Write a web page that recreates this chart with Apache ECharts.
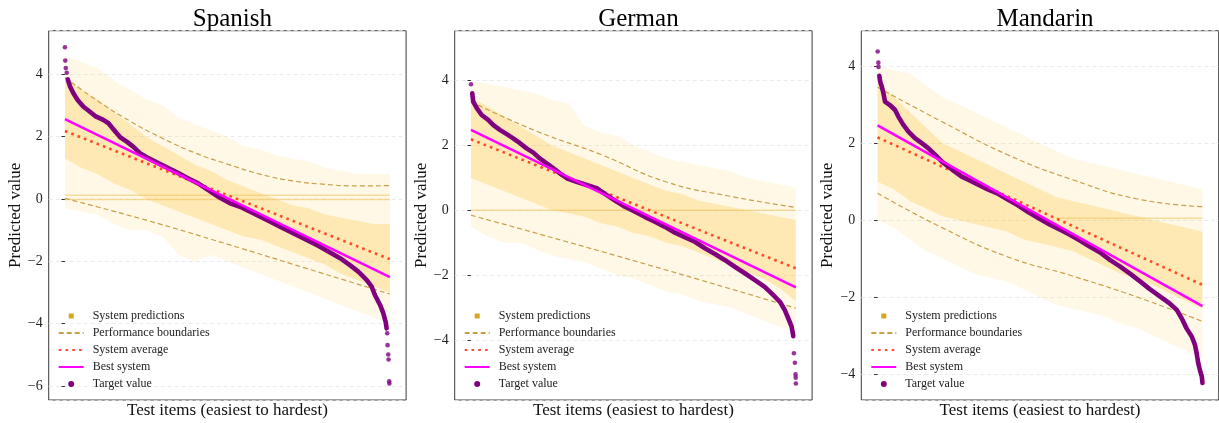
<!DOCTYPE html>
<html>
<head>
<meta charset="utf-8">
<script src="https://cdn.jsdelivr.net/npm/echarts@6/dist/echarts.min.js"></script>
<style>
html, body { margin: 0; padding: 0; background: #fff; }
#chart { width: 1219px; height: 423px; }
</style>
</head>
<body>
<div id="chart"></div>
<script>
var chart = echarts.init(document.getElementById('chart'));

// panels
var languages = ['Spanish', 'German', 'Mandarin'];
var yMin = [-6.45, -5.85, -4.67];
var yMax = [5.4, 5.54, 4.92];

// x = position of the test item, in % of items (easiest -> hardest)
var cloudX = [0, 5, 10, 15, 20, 25, 30, 35, 40, 45, 50, 55, 60, 65, 70, 75, 80, 85, 90, 95, 100];

// system predictions cloud (sparse outer band and dense core band)
var spanishOuterHi = [4.6, 4.4, 4.2, 3.8, 3.5, 3.2, 3.0, 2.6, 2.4, 2.2, 2.0, 1.7, 1.6, 1.4, 1.3, 1.2, 1.0, 0.9, 0.8, 0.8, 0.8];
var spanishCoreHi  = [3.9, 3.5, 3.2, 2.8, 2.4, 2.0, 1.7, 1.4, 1.1, 0.9, 0.6, 0.4, 0.2, 0.0, -0.2, -0.3, -0.5, -0.6, -0.7, -0.8, -0.8];
var spanishCoreLo  = [1.3, 1.0, 0.8, 0.5, 0.3, 0.0, -0.2, -0.4, -0.6, -0.8, -1.0, -1.2, -1.3, -1.5, -1.7, -1.9, -2.1, -2.4, -2.6, -2.8, -3.0];
var spanishOuterLo = [-0.3, -0.4, -0.5, -0.8, -1.0, -1.0, -1.2, -1.8, -2.0, -1.8, -2.0, -2.2, -2.4, -2.6, -2.8, -3.0, -3.2, -3.4, -3.6, -3.8, -4.0];

var germanOuterHi = [4.0, 3.9, 3.8, 3.7, 3.6, 3.4, 3.3, 2.6, 2.4, 2.3, 2.0, 1.8, 1.6, 1.5, 1.4, 1.3, 1.2, 1.0, 0.9, 0.8, 0.7];
var germanCoreHi  = [3.5, 3.2, 2.9, 2.6, 2.3, 2.0, 1.8, 1.6, 1.4, 1.2, 1.0, 0.8, 0.6, 0.5, 0.3, 0.2, 0.1, 0.0, -0.1, -0.2, -0.3];
var germanCoreLo  = [1.0, 0.8, 0.6, 0.4, 0.2, 0.0, -0.1, -0.2, -0.4, -0.5, -0.7, -0.8, -1.0, -1.1, -1.3, -1.5, -1.7, -1.9, -2.1, -2.4, -2.8];
var germanOuterLo = [-0.5, -0.8, -1.0, -1.0, -1.2, -1.4, -1.5, -1.6, -1.8, -2.0, -2.1, -2.3, -2.5, -2.6, -2.8, -2.9, -3.0, -3.2, -3.4, -3.6, -3.7];

var mandarinOuterHi = [4.0, 3.9, 3.8, 3.5, 3.2, 3.0, 2.8, 2.6, 2.4, 2.2, 2.0, 1.8, 1.6, 1.5, 1.4, 1.3, 1.2, 1.1, 1.0, 0.9, 0.8];
var mandarinCoreHi  = [3.6, 3.2, 2.8, 2.4, 2.0, 1.8, 1.6, 1.4, 1.2, 1.0, 0.8, 0.6, 0.5, 0.4, 0.3, 0.2, 0.1, 0.0, -0.1, -0.2, -0.3];
var mandarinCoreLo  = [1.0, 0.8, 0.5, 0.3, 0.1, 0.0, -0.1, -0.2, -0.3, -0.5, -0.6, -0.7, -0.8, -1.0, -1.2, -1.4, -1.5, -1.7, -1.9, -2.1, -2.3];
var mandarinOuterLo = [0.0, -0.2, -0.5, -0.8, -1.0, -1.2, -1.4, -1.5, -1.6, -1.8, -2.0, -2.2, -2.3, -2.4, -2.5, -2.7, -2.8, -3.0, -3.2, -3.4, -3.6];

// systems that predict a near-constant value
var spanishFlat = [[[0, 0.12], [100, 0.12]], [[0, -0.02], [100, -0.02]]];
var germanFlat = [[[0, 0.0], [100, 0.0]]];
var mandarinFlat = [[[55, 0.05], [100, 0.05]]];

// performance boundaries
var spanishUpper = [[0, 3.9], [10, 3.15], [20, 2.5], [30, 1.95], [40, 1.48], [50, 1.12], [60, 0.8], [70, 0.58], [80, 0.47], [90, 0.42], [100, 0.43]];
var spanishLower = [[0, 0.02], [25, -0.68], [50, -1.45], [75, -2.25], [100, -3.05]];
var germanUpper = [[0, 3.35], [20, 2.45], [40, 1.72], [60, 0.88], [80, 0.43], [100, 0.09]];
var germanLower = [[0, -0.15], [50, -1.55], [100, -3.02]];
var mandarinUpper = [[0, 3.45], [20, 2.55], [40, 1.7], [60, 1.05], [80, 0.55], [100, 0.35]];
var mandarinLower = [[0, 0.7], [20, -0.2], [40, -0.95], [60, -1.45], [80, -2.0], [100, -2.63]];

// system average and best system
var spanishAverage = [[0, 2.18], [100, -1.93]];
var spanishBest = [[0, 2.56], [100, -2.51]];
var germanAverage = [[0, 2.19], [100, -1.79]];
var germanBest = [[0, 2.48], [100, -2.38]];
var mandarinAverage = [[0, 2.15], [100, -1.68]];
var mandarinBest = [[0, 2.46], [100, -2.23]];

// target values (sorted), dense curve plus the isolated extreme items
var spanishTarget = [[0.86, 3.84], [1.57, 3.61], [2.6, 3.39], [3.9, 3.18], [5.7, 2.96], [7.2, 2.84], [9.3, 2.66], [11.8, 2.54], [13.4, 2.43], [14.9, 2.24], [17.0, 1.98], [19.0, 1.84], [21.0, 1.68], [23.1, 1.47], [25.7, 1.31], [28.7, 1.15], [31.8, 0.99], [34.9, 0.83], [38.0, 0.66], [41.0, 0.5], [44.1, 0.29], [47.2, 0.07], [50.8, -0.14], [53.9, -0.25], [57.0, -0.41], [60.1, -0.57], [63.2, -0.73], [66.2, -0.89], [69.3, -1.05], [72.4, -1.21], [75.5, -1.37], [78.5, -1.53], [81.6, -1.72], [84.7, -1.9], [87.7, -2.12], [90.3, -2.33], [92.9, -2.6], [94.4, -2.81], [95.4, -3.08], [97.0, -3.4], [98.0, -3.67], [98.7, -3.94], [99.0, -4.15]];
var spanishTargetEnds = [[0, 4.87], [0.1, 4.44], [0.25, 4.2], [0.55, 4.05], [99.2, -4.31], [99.3, -4.69], [99.5, -4.99], [99.6, -5.15], [99.8, -5.85], [99.85, -5.92]];

var germanTarget = [[0.4, 3.61], [0.7, 3.35], [1.8, 3.15], [3.3, 2.94], [5.3, 2.79], [6.9, 2.63], [8.9, 2.48], [11.0, 2.35], [13.0, 2.22], [15.1, 2.07], [17.1, 1.91], [19.2, 1.78], [21.2, 1.6], [23.3, 1.45], [25.3, 1.3], [27.4, 1.14], [29.5, 0.99], [32.5, 0.88], [35.6, 0.78], [38.7, 0.68], [41.8, 0.47], [44.8, 0.27], [47.4, 0.11], [50.5, -0.04], [53.5, -0.2], [56.6, -0.35], [59.7, -0.51], [62.8, -0.69], [65.8, -0.83], [68.9, -0.97], [72.0, -1.17], [75.1, -1.35], [78.1, -1.53], [81.2, -1.74], [84.3, -1.94], [87.4, -2.15], [90.4, -2.36], [93.0, -2.61], [95.1, -2.82], [96.6, -3.08], [97.9, -3.39], [98.7, -3.59], [99.2, -3.88]];
var germanTargetEnds = [[0, 3.89], [99.4, -4.41], [99.7, -4.7], [99.9, -5.06], [99.95, -5.16], [100, -5.34]];

var mandarinTarget = [[0.55, 3.75], [0.8, 3.6], [1.3, 3.47], [1.8, 3.3], [2.3, 3.08], [3.8, 2.99], [5.4, 2.86], [6.4, 2.69], [7.9, 2.48], [9.5, 2.3], [11.5, 2.13], [13.6, 2.0], [15.6, 1.87], [17.7, 1.7], [19.8, 1.52], [21.8, 1.39], [23.8, 1.26], [25.9, 1.13], [27.9, 1.05], [31.0, 0.92], [34.1, 0.79], [37.2, 0.68], [40.2, 0.53], [43.3, 0.38], [46.6, 0.2], [50.0, 0.03], [53.1, -0.12], [56.2, -0.25], [59.2, -0.38], [62.3, -0.53], [65.4, -0.69], [68.5, -0.84], [71.5, -1.03], [74.6, -1.2], [77.7, -1.39], [80.8, -1.59], [83.8, -1.79], [86.9, -1.98], [90.0, -2.17], [92.1, -2.33], [93.6, -2.55], [95.1, -2.81], [96.7, -3.02], [97.7, -3.24], [98.2, -3.45], [98.7, -3.71], [99.2, -3.89], [99.8, -4.06], [100, -4.23]];
var mandarinTargetEnds = [[0.05, 4.38], [0.25, 4.09], [0.3, 3.98]];

var legendNames = ['System predictions', 'Performance boundaries', 'System average', 'Best system', 'Target value'];

var panels = [
    {outerHi: spanishOuterHi, coreHi: spanishCoreHi, coreLo: spanishCoreLo, outerLo: spanishOuterLo, flat: spanishFlat,
     upper: spanishUpper, lower: spanishLower, average: spanishAverage, best: spanishBest, target: spanishTarget, ends: spanishTargetEnds},
    {outerHi: germanOuterHi, coreHi: germanCoreHi, coreLo: germanCoreLo, outerLo: germanOuterLo, flat: germanFlat,
     upper: germanUpper, lower: germanLower, average: germanAverage, best: germanBest, target: germanTarget, ends: germanTargetEnds},
    {outerHi: mandarinOuterHi, coreHi: mandarinCoreHi, coreLo: mandarinCoreLo, outerLo: mandarinOuterLo, flat: mandarinFlat,
     upper: mandarinUpper, lower: mandarinLower, average: mandarinAverage, best: mandarinBest, target: mandarinTarget, ends: mandarinTargetEnds}
];

var gridLeft = [48.7, 454.7, 861.3];
var gridWidth = 357.4;
var serif = '"Liberation Serif", "Times New Roman", serif';
var noSymbol = {color: 'rgba(0,0,0,0)', borderWidth: 0, opacity: 0};

function bandData(hi, lo) {
    var out = [];
    for (var i = 0; i < cloudX.length - 1; i++) {
        out.push([cloudX[i], cloudX[i + 1], hi[i], hi[i + 1], lo[i], lo[i + 1]]);
    }
    return out;
}

function bandSeries(idx, hi, lo, fill) {
    return {
        name: 'System predictions',
        type: 'custom',
        xAxisIndex: idx, yAxisIndex: idx,
        silent: true,
        itemStyle: {color: '#DAA520'},
        renderItem: function (params, api) {
            var a = api.coord([api.value(0), api.value(2)]);
            var b = api.coord([api.value(1), api.value(3)]);
            var c = api.coord([api.value(1), api.value(5)]);
            var d = api.coord([api.value(0), api.value(4)]);
            return {type: 'polygon', shape: {points: [a, b, c, d]}, style: {fill: fill}};
        },
        data: bandData(hi, lo),
        z: 1
    };
}

var grids = [], xAxes = [], yAxes = [], titles = [], legends = [], series = [];

panels.forEach(function (p, i) {
    grids.push({left: gridLeft[i], top: 30.7, width: gridWidth, height: 369.3, show: true,
        outerBoundsMode: 'none', containLabel: false,
        borderColor: '#3a3a3a', borderWidth: 1, backgroundColor: '#fff'});
    xAxes.push({type: 'value', gridIndex: i, min: -5, max: 105,
        name: 'Test items (easiest to hardest)', nameLocation: 'middle', nameGap: 2,
        nameTextStyle: {fontFamily: serif, fontSize: 17, color: '#111'},
        axisLine: {show: false}, axisTick: {show: false}, axisLabel: {show: false}, splitLine: {show: false}});
    yAxes.push({type: 'value', gridIndex: i, min: yMin[i], max: yMax[i], splitNumber: 5,
        name: 'Predicted value', nameLocation: 'middle', nameGap: 25,
        nameTextStyle: {fontFamily: serif, fontSize: 17, color: '#111'},
        axisLine: {show: false},
        axisTick: {show: true, length: 3.5, lineStyle: {color: '#333'}},
        axisLabel: {showMinLabel: false, showMaxLabel: false, margin: 6, fontFamily: serif, fontSize: 14, color: '#222',
            formatter: function (v) { return String(v).replace('-', '\u2212'); }},
        splitLine: {show: true, lineStyle: {color: '#e6e6e6', type: [4, 3], width: 0.8}}});
    titles.push({text: languages[i], left: gridLeft[i] + gridWidth / 2, textAlign: 'center', top: 2,
        textStyle: {fontFamily: serif, fontSize: 25, fontWeight: 'normal', color: '#000'}});
    legends.push({orient: 'vertical', left: gridLeft[i] + 9, top: 309, padding: 0,
        itemWidth: 25, itemHeight: 6, itemGap: 3, selectedMode: false,
        textStyle: {fontFamily: serif, fontSize: 12, lineHeight: 14, color: '#222', padding: [0, 0, 0, 4]},
        data: [
            {name: legendNames[0], icon: 'path://M0,0 M25,6 M10,0.5 h5 v5 h-5 Z', itemStyle: {color: '#DAA520'}},
            {name: legendNames[1], itemStyle: noSymbol},
            {name: legendNames[2], itemStyle: noSymbol},
            {name: legendNames[3], itemStyle: noSymbol},
            {name: legendNames[4], icon: 'circle', itemStyle: {color: '#800080'}}
        ]});

    series.push(bandSeries(i, p.outerHi, p.outerLo, 'rgba(255, 200, 60, 0.12)'));
    series.push(bandSeries(i, p.coreHi, p.coreLo, 'rgba(252, 190, 40, 0.26)'));
    p.flat.forEach(function (seg) {
        series.push({type: 'line', xAxisIndex: i, yAxisIndex: i, data: seg, symbol: 'none', silent: true,
            lineStyle: {color: 'rgba(238, 195, 90, 0.55)', width: 1.5}, z: 2});
    });
    series.push({name: 'Performance boundaries', type: 'line', xAxisIndex: i, yAxisIndex: i, data: p.upper,
        smooth: true, symbol: 'none', lineStyle: {color: '#C9A048', width: 1.2, type: [5, 3]}, z: 3});
    series.push({name: 'Performance boundaries', type: 'line', xAxisIndex: i, yAxisIndex: i, data: p.lower,
        smooth: true, symbol: 'none', lineStyle: {color: '#C9A048', width: 1.2, type: [5, 3]}, z: 3});
    series.push({name: 'System average', type: 'line', xAxisIndex: i, yAxisIndex: i, data: p.average,
        symbol: 'none', lineStyle: {color: '#FF4A2A', width: 2.6, type: [2.6, 4.2]}, z: 4});
    series.push({name: 'Target value', type: 'line', xAxisIndex: i, yAxisIndex: i, data: p.target,
        symbol: 'none', lineStyle: {color: '#800080', width: 4.6, cap: 'round', join: 'round'}, z: 5});
    series.push({name: 'Target value', type: 'scatter', xAxisIndex: i, yAxisIndex: i, data: p.ends,
        symbol: 'circle', symbolSize: 4.6, itemStyle: {color: '#800080'}, z: 5});
    series.push({name: 'Best system', type: 'line', xAxisIndex: i, yAxisIndex: i, data: p.best,
        symbol: 'none', lineStyle: {color: '#FF00FF', width: 2.5}, z: 6});
});

var option = {
    animation: false,
    backgroundColor: '#fff',
    title: titles,
    legend: legends,
    grid: grids,
    xAxis: xAxes,
    yAxis: yAxes,
    series: series
};
chart.setOption(option);
</script>
</body>
</html>
